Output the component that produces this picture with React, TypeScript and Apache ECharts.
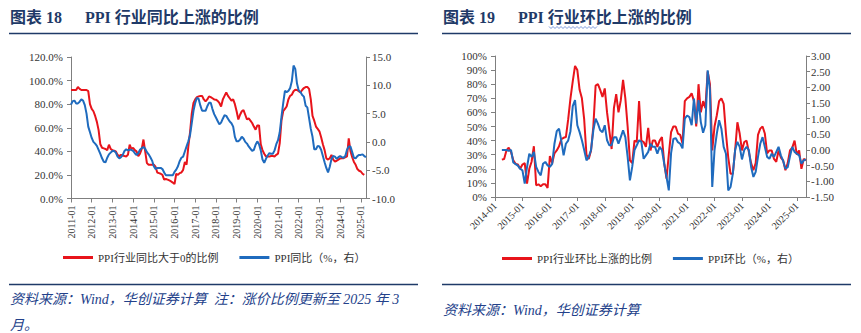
import React, { useEffect, useRef } from "react";
import * as echarts from "echarts";

// ---------- categories ----------
const leftMonths: string[] = [];
for (let y = 2011; y <= 2025; y++) {
  for (let m = 1; m <= 12; m++) {
    if (y === 2025 && m > 4) break;
    leftMonths.push(`${y}-${String(m).padStart(2, "0")}`);
  }
}
const rightMonths: string[] = [];
for (let y = 2014; y <= 2025; y++) {
  for (let m = 1; m <= 12; m++) {
    if (y === 2025 && m > 5) break;
    rightMonths.push(`${y}-${String(m).padStart(2, "0")}`);
  }
}

// ---------- left chart: share of industries with PPI YoY > 0 (%) ----------
const leftRed: (number | null)[] = [
  92, 92, 92, 92, 94.5, 93, 92, 92, 92, 92, 91, 80, // 2011
  76, 74, 70, 65, 58, 46, 43, 42.5, 42, 41, 45.6, 42, // 2012
  41, 40.5, 40, 37, 36, 37, 36.5, 36, 35.7, 37, 45.6, 42, // 2013
  43, 41, 40, 36, 38, 42, 50, 40, 30, 28.6, 28.6, 28.6, // 2014
  28.6, 27, 22, 21.5, 21, 20, 16, 16.5, 16, 15.3, 14.5, 13.5, // 2015
  12.2, 21, 20, 21.5, 22, 24.3, 31, 28.6, 44, 56, 72, 81, // 2016
  84, 86, 86.6, 87, 87, 84, 82.4, 84, 86.6, 86, 85, 84, // 2017
  83.8, 82.8, 81, 78, 84, 87, 90, 87, 85, 83, 84, 80, // 2018
  74, 67, 71, 74, 75, 71, 67, 68, 66, 64, 61, 58.3, // 2019
  62, 62, 46, 41, 38, 35.7, 35.7, 35.7, 36, 36, 35.7, 37, // 2020
  38, 47, 66, 74, 76, 78, 84, 87, 88, 91, 92.3, 92, // 2021
  91, 90, 92, 93.7, 94.5, 94.5, 93, 84, 70, 66, 61, 59, // 2022
  57, 52, 46, 41, 34, 33, 34.2, 37, 33, 31.4, 32, 33, // 2023
  34, 34.2, 34.2, 35, 35.7, 51, 40, 35, 31, 28.6, 25, 23.5, // 2024
  22.9, 21, 20, null, // 2025
];
// PPI YoY (%)
const leftBlue: number[] = [
  6.6, 7.2, 7.3, 6.8, 6.8, 7.1, 7.5, 7.3, 6.5, 5.0, 2.7, 1.7,
  0.7, 0.0, -0.3, -0.7, -1.4, -2.1, -2.9, -3.5, -3.6, -2.8, -2.2, -1.9,
  -1.6, -1.6, -1.9, -2.6, -2.9, -2.7, -2.3, -1.6, -1.3, -1.5, -1.4, -1.4,
  -1.6, -2.0, -2.3, -2.0, -1.4, -1.1, -0.9, -1.2, -1.8, -2.2, -2.7, -3.3,
  -4.3, -4.8, -4.6, -4.6, -4.6, -4.8, -5.4, -5.9, -5.9, -5.9, -5.9, -5.9,
  -5.3, -4.9, -4.3, -3.4, -2.8, -2.6, -1.7, -0.8, 0.1, 1.2, 3.3, 5.5,
  6.9, 7.8, 7.6, 6.4, 5.5, 5.5, 5.5, 6.3, 6.9, 6.9, 5.8, 4.9,
  4.3, 3.7, 3.1, 3.4, 4.1, 4.7, 4.6, 4.1, 3.6, 3.3, 2.7, 0.9,
  0.1, 0.1, 0.4, 0.9, 0.6, 0.0, -0.3, -0.8, -1.2, -1.6, -1.4, -0.5,
  0.1, -0.4, -1.5, -3.1, -3.7, -3.0, -2.4, -2.0, -2.1, -2.1, -1.5, -0.4,
  0.3, 1.7, 4.4, 6.8, 9.0, 8.8, 9.0, 9.5, 10.7, 13.5, 12.9, 10.3,
  9.1, 8.8, 8.3, 8.0, 6.4, 6.1, 4.2, 2.3, 0.9, -1.3, -1.3, -0.7,
  -0.8, -1.4, -2.5, -3.6, -4.6, -5.4, -4.4, -3.0, -2.5, -2.6, -3.0, -2.7,
  -2.5, -2.7, -2.8, -2.5, -1.4, -0.8, -0.8, -1.8, -2.8, -2.9, -2.5, -2.3,
  -2.3, -2.2, -2.5, -2.7,
];

// ---------- right chart: share of industries with PPI MoM up (%) ----------
const rightRed: (number | null)[] = [
  null, null, null, 26.5, 27, 33, 35, 32, 26, 23.5, 23, 20, // 2014
  23, 24, 9.5, 20, 25, 36, 8.3, 9, 7.6, 9, 9, 6.5, // 2015
  29, 24, 31, 33, 36, 41, 42, 42.5, 55, 70, 82, 93, // 2016
  90, 76, 70, 55, 30, 27, 33, 50, 79, 80, 76, 71, // 2017
  77, 60, 47, 34, 63, 73, 60, 68.5, 83, 70, 50, 26, // 2018
  24, 40, 39, 68, 40, 39, 35.5, 49, 33, 40, 40, 35.5, // 2019
  40, 42.5, 24, 13, 30, 46, 50, 50, 45, 44, 38, 68, // 2020
  70, 71, 73.5, 68, 50, 80, 60, 68, 63, 89, 80, 33, // 2021
  50, 58, 68, 70, 66, 45, 28, 16.5, 16.5, 33, 53, 45, // 2022
  33, 39, 40, 32, 24, 19, 24, 44, 48.5, 50, 45, 31, // 2023
  33, 33, 27, 25, 33, 28, 26, 19, 24, 33, 35, 40, // 2024
  30, 33, 20, 27, 26, // 2025
];
// PPI MoM (%)
const rightBlue: (number | null)[] = [
  null, null, null, 0.0, 0.0, 0.0, -0.03, 0.0, -0.4, -0.45, -0.5, -0.6,
  -0.65, -1.07, -0.55, -0.12, -0.22, -0.06, -0.54, -0.7, -0.81, -0.44, -0.38, -0.49,
  -0.54, -0.44, 0.2, 0.6, 0.68, 0.3, -0.17, 0.2, 0.3, 0.6, 1.4, 1.59,
  0.79, 0.57, 0.31, 0.0, -0.33, -0.22, 0.0, 0.63, 1.0, 0.84, 0.63, 0.57,
  0.79, 0.31, 0.15, 0.15, 0.41, 0.41, 0.2, 0.41, 0.63, 0.41, -0.22, -0.97,
  -0.54, 0.0, 0.15, 0.31, 0.26, -0.28, -0.17, -0.06, 0.2, 0.1, 0.1, -0.12,
  0.1, 0.0, -0.44, -0.86, -1.29, -0.1, 0.35, 0.38, 0.25, 0.2, 0.05, 1.0,
  1.1, 1.05, 0.79, 1.64, 0.84, 1.59, 0.89, 0.55, 0.79, 2.54, 1.9, -1.18,
  0.0, 0.52, 0.95, 0.68, 0.1, -0.12, -1.29, -1.18, -0.76, 0.0, 0.26, 0.1,
  -0.3, 0.0, 0.1, 0.0, -0.54, -0.86, -0.7, -0.22, 0.2, 0.41, 0.1, -0.22,
  -0.28, -0.12, -0.22, -0.06, 0.1, -0.17, -0.35, -0.6, -0.55, -0.2, 0.1, -0.06,
  -0.12, -0.17, -0.44, -0.33, -0.3,
];

const leftNames = ["PPI行业同比大于0的比例", "PPI同比（%，右）"];
const rightNames = ["PPI行业环比上涨的比例", "PPI环比（%，右）"];
const titles = ["图表 18", "PPI 行业同比上涨的比例", "图表 19", "PPI 行业环比上涨的比例"];
const sources = [
  "资料来源：Wind，华创证券计算  注：涨价比例更新至 2025 年 3",
  "月。",
  "资料来源：Wind，华创证券计算",
];

const SERIF = '"Liberation Serif", "Times New Roman", "Noto Sans CJK SC", serif';
const RED = "#E8141B";
const BLUE = "#1F6BBE";
const NAVY = "#1F3A68";
const SRC = "#23418A";
const AX = "#7f7f7f";
const TXT = "#333333";

function yAxisBase(gridIndex: number, position: string, min: number, max: number, interval: number, fmt: (v: number) => string, margin: number) {
  return {
    type: "value",
    gridIndex,
    position,
    min,
    max,
    interval,
    splitLine: { show: false },
    axisLine: { show: true, lineStyle: { color: AX, width: 1 } },
    axisTick: { show: true, length: 4, lineStyle: { color: AX } },
    axisLabel: { formatter: fmt, fontSize: 11, color: TXT, fontFamily: SERIF, margin },
  };
}

function xAxisBase(gridIndex: number, data: string[], rotate: number) {
  return {
    type: "category",
    gridIndex,
    data,
    boundaryGap: false,
    axisLine: { show: true, lineStyle: { color: AX, width: 1 } },
    axisTick: { show: true, interval: 11, length: 4, lineStyle: { color: AX } },
    axisLabel: { interval: 11, rotate, fontSize: 10, color: TXT, fontFamily: SERIF, margin: 7 },
    splitLine: { show: false },
  };
}

function wave(x0: number, x1: number, y: number): number[][] {
  const pts: number[][] = [];
  let up = true;
  for (let x = x0; x <= x1; x += 2) {
    pts.push([x, up ? y - 1 : y + 1]);
    up = !up;
  }
  return pts;
}

export default function App() {
  const ref = useRef<HTMLDivElement>(null);
  useEffect(() => {
    if (!ref.current) return;
    const chart = echarts.init(ref.current, undefined, { renderer: "svg" });
    const lineSeries = (name: string, data: any[], xi: number, yi: number, color: string) => ({
      name,
      type: "line",
      xAxisIndex: xi,
      yAxisIndex: yi,
      data,
      symbol: "none",
      connectNulls: false,
      lineStyle: { color, width: 2 },
      itemStyle: { color },
    });
    const legendBase = {
      icon: "rect",
      itemWidth: 30,
      itemHeight: 3,
      itemGap: 21,
      padding: 0,
      textStyle: { fontSize: 11, color: TXT, fontFamily: SERIF },
      selectedMode: false,
    };
    const option: any = {
      animation: false,
      grid: [
        { left: 71, top: 57, width: 295, height: 141.5 },
        { left: 495, top: 56, width: 311, height: 141 },
      ],
      xAxis: [xAxisBase(0, leftMonths, 90), xAxisBase(1, rightMonths, 45)],
      yAxis: [
        yAxisBase(0, "left", 0, 120, 20, (v: number) => v.toFixed(1) + "%", 8),
        yAxisBase(0, "right", -10, 15, 5, (v: number) => v.toFixed(1), 6),
        yAxisBase(1, "left", 0, 100, 10, (v: number) => v.toFixed(0) + "%", 8),
        yAxisBase(1, "right", -1.5, 3, 0.5, (v: number) => v.toFixed(2), 5),
      ],
      legend: [
        { ...legendBase, data: leftNames, left: 63, top: 252 },
        { ...legendBase, data: rightNames, left: 502, top: 253 },
      ],
      series: [
        lineSeries(leftNames[0], leftRed, 0, 0, RED),
        lineSeries(leftNames[1], leftBlue, 0, 1, BLUE),
        lineSeries(rightNames[0], rightRed, 1, 2, RED),
        lineSeries(rightNames[1], rightBlue, 1, 3, BLUE),
      ],
      graphic: [
        { type: "text", x: 10, y: 17, style: { text: titles[0], fill: NAVY, font: `bold 16px ${SERIF}`, verticalAlign: "middle" } },
        { type: "text", x: 85, y: 17, style: { text: titles[1], fill: NAVY, font: `bold 16px ${SERIF}`, verticalAlign: "middle" } },
        { type: "text", x: 443, y: 17, style: { text: titles[2], fill: NAVY, font: `bold 16px ${SERIF}`, verticalAlign: "middle" } },
        { type: "text", x: 518, y: 17, style: { text: titles[3], fill: NAVY, font: `bold 16px ${SERIF}`, verticalAlign: "middle" } },
        { type: "polyline", shape: { points: wave(549, 598, 27.5) }, style: { stroke: "#5b7fd0", lineWidth: 0.8, fill: null } },
        { type: "line", shape: { x1: 9, y1: 33.5, x2: 418, y2: 33.5 }, style: { stroke: NAVY, lineWidth: 1.5 } },
        { type: "line", shape: { x1: 442, y1: 33.5, x2: 851, y2: 33.5 }, style: { stroke: NAVY, lineWidth: 1.5 } },
        { type: "line", shape: { x1: 9, y1: 284.5, x2: 418, y2: 284.5 }, style: { stroke: NAVY, lineWidth: 1.5 } },
        { type: "line", shape: { x1: 442, y1: 284.5, x2: 851, y2: 284.5 }, style: { stroke: NAVY, lineWidth: 1.5 } },
        { type: "text", x: 10, y: 299, style: { text: sources[0], fill: SRC, font: `italic 14px ${SERIF}`, verticalAlign: "middle" } },
        { type: "text", x: 10, y: 325, style: { text: sources[1], fill: SRC, font: `italic 14px ${SERIF}`, verticalAlign: "middle" } },
        { type: "text", x: 443, y: 310, style: { text: sources[2], fill: SRC, font: `italic 14px ${SERIF}`, verticalAlign: "middle" } },
      ],
    };
    chart.setOption(option);
    return () => chart.dispose();
  }, []);
  return (
    <div
      ref={ref}
      style={{ position: "absolute", left: 0, top: 0, width: 861, height: 333, background: "#fff" }}
    />
  );
}
